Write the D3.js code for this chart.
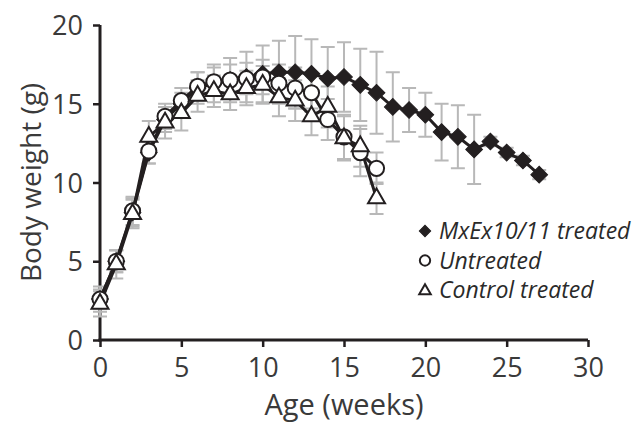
<!DOCTYPE html>
<html>
<head>
<meta charset="utf-8">
<script src="https://cdn.jsdelivr.net/npm/d3@7"></script>
<style>
  html, body { margin: 0; padding: 0; background: #fff; }
  svg { display: block; }
</style>
</head>
<body>
<div id="chart"></div>
<script>
// Body weight over age, three groups
const weeksLong = [0, 1, 2, 3, 4, 5, 6, 7, 8, 9, 10, 11, 12, 13, 14, 15, 16, 17, 18, 19, 20, 21, 22, 23, 24, 25, 26, 27];
const weeksShort = [0, 1, 2, 3, 4, 5, 6, 7, 8, 9, 10, 11, 12, 13, 14, 15, 16, 17];

const mxexMean = [2.6, 5.0, 8.1, 11.9, 14.0, 15.0, 16.0, 16.3, 16.5, 16.7, 16.9, 17.0, 17.0, 16.9, 16.6, 16.7, 16.2, 15.7, 14.8, 14.6, 14.3, 13.2, 12.9, 12.1, 12.6, 11.9, 11.4, 10.5];
const mxexErr = [0.8, 0.7, 0.9, 0.7, 0.8, 0.7, 1.0, 1.2, 1.4, 1.6, 1.8, 2.0, 2.3, 2.2, 2.0, 2.2, 2.3, 2.6, 2.2, 1.4, 1.4, 1.8, 2.0, 2.2, 0.3, 0.3, 0.3, 0.3];

const untreatedMean = [2.6, 5.0, 8.2, 12.0, 14.2, 15.2, 16.1, 16.4, 16.5, 16.6, 16.7, 16.3, 16.0, 15.7, 14.0, 12.9, 11.9, 10.9];
const untreatedErr = [0.6, 0.7, 0.9, 0.8, 0.8, 0.8, 0.9, 0.9, 1.0, 1.0, 1.1, 1.2, 1.3, 1.2, 1.3, 1.4, 1.5, 1.0];

const controlMean = [2.3, 4.8, 8.0, 12.9, 13.8, 14.4, 15.5, 15.8, 15.6, 16.0, 16.2, 15.4, 15.2, 14.2, 14.8, 12.8, 12.3, 9.0];
const controlErr = [0.8, 0.9, 0.9, 1.0, 1.0, 1.1, 1.0, 1.0, 1.0, 1.1, 1.2, 1.2, 1.3, 1.2, 1.3, 1.4, 1.3, 1.0];

const xTicks = [0, 5, 10, 15, 20, 25, 30];
const yTicks = [0, 5, 10, 15, 20];
const legendLabels = ['MxEx10/11 treated', 'Untreated', 'Control treated'];

const width = 636;
const height = 422;
const ink = '#231f20';
const textGray = '#3a3a3a';
const errGray = '#b8b8b8';
const font = '"Open Sans", "DejaVu Sans", sans-serif';

const svg = d3.select('#chart')
  .append('svg')
  .attr('width', width)
  .attr('height', height)
  .style('font-family', font);

const x = d3.scaleLinear().domain([0, 30]).range([100, 588]);
const y = d3.scaleLinear().domain([0, 20]).range([340, 25]);

// series built from the arrays above
const series = [
  { name: legendLabels[0], shape: 'diamond', pts: weeksLong.map((w, i) => ({ w, m: mxexMean[i], e: mxexErr[i] })) },
  { name: legendLabels[1], shape: 'circle', pts: weeksShort.map((w, i) => ({ w, m: untreatedMean[i], e: untreatedErr[i] })) },
  { name: legendLabels[2], shape: 'triangle', pts: weeksShort.map((w, i) => ({ w, m: controlMean[i], e: controlErr[i] })) }
];

// Axes
const xAxis = svg.append('g')
  .attr('transform', `translate(0,${y(0)})`)
  .call(d3.axisBottom(x).tickValues(xTicks).tickSize(7).tickPadding(11).tickSizeOuter(0));

const yAxis = svg.append('g')
  .attr('transform', `translate(${x(0)},0)`)
  .call(d3.axisLeft(y).tickValues(yTicks).tickSize(7).tickPadding(10).tickSizeOuter(0));

[xAxis, yAxis].forEach(ax => {
  ax.select('.domain').attr('stroke', ink).attr('stroke-width', 3);
  ax.selectAll('.tick line').attr('stroke', ink).attr('stroke-width', 2.5);
  ax.selectAll('.tick text')
    .attr('fill', textGray)
    .style('font-size', '27px')
    .style('font-family', font);
});
yAxis.selectAll('.tick text').attr('dy', '0.36em');
// extend axis lines to meet at the corner
xAxis.select('.domain').attr('d', `M${x(0) - 1.5},0H${x(30)}`);
yAxis.select('.domain').attr('d', `M0,${y(0) + 1.5}V${y(20)}`);

// Axis titles
svg.append('text')
  .attr('x', (x(0) + x(30)) / 2)
  .attr('y', 415)
  .attr('text-anchor', 'middle')
  .attr('fill', textGray)
  .style('font-size', '29px')
  .text('Age (weeks)');

svg.append('text')
  .attr('transform', `translate(41,${(y(0) + y(20)) / 2}) rotate(-90)`)
  .attr('text-anchor', 'middle')
  .attr('fill', textGray)
  .style('font-size', '28px')
  .text('Body weight (g)');

// Error bars (drawn first, behind lines and markers)
const capHalf = 7;
series.forEach(s => {
  const g = svg.append('g').attr('stroke', errGray).attr('stroke-width', 2).attr('fill', 'none');
  g.selectAll('path')
    .data(s.pts)
    .enter()
    .append('path')
    .attr('d', d => {
      const cx = x(d.w), top = y(d.m + d.e), bot = y(d.m - d.e);
      return `M${cx},${top}V${bot}M${cx - capHalf},${top}H${cx + capHalf}M${cx - capHalf},${bot}H${cx + capHalf}`;
    });
});

// Lines
const line = d3.line().x(d => x(d.w)).y(d => y(d.m));
series.forEach(s => {
  svg.append('path')
    .datum(s.pts)
    .attr('d', line)
    .attr('fill', 'none')
    .attr('stroke', ink)
    .attr('stroke-width', 3);
});

// Marker shapes
function symbolFor(shape, scale) {
  if (shape === 'diamond') return d3.symbol(d3.symbolSquare, 140 * scale * scale);
  if (shape === 'circle') return d3.symbol(d3.symbolCircle, 180 * scale * scale);
  return d3.symbol(d3.symbolTriangle, 125 * scale * scale);
}

function drawMarker(sel, shape, scale) {
  sel.attr('d', symbolFor(shape, scale)())
    .attr('fill', shape === 'diamond' ? ink : '#fff')
    .attr('stroke', ink)
    .attr('stroke-width', shape === 'diamond' ? 1 : 2);
}

series.forEach(s => {
  const g = svg.append('g');
  const m = g.selectAll('path')
    .data(s.pts)
    .enter()
    .append('path')
    .attr('transform', d => `translate(${x(d.w)},${y(d.m)})` + (s.shape === 'diamond' ? ' rotate(45)' : ''));
  drawMarker(m, s.shape, 1);
});

// Legend
const legend = svg.append('g');
const legendRows = legend.selectAll('g')
  .data(series)
  .enter()
  .append('g')
  .attr('transform', (d, i) => `translate(425,${231 + i * 29.5})`);

legendRows.append('path')
  .attr('transform', d => d.shape === 'diamond' ? 'rotate(45)' : (d.shape === 'triangle' ? 'translate(0,1)' : null))
  .each(function (d) { drawMarker(d3.select(this), d.shape, 0.68); });

legendRows.append('text')
  .attr('x', 14)
  .attr('y', 8)
  .attr('fill', '#2a2a2a')
  .style('font-size', '23px')
  .style('font-style', 'italic')
  .text(d => d.name);
</script>
</body>
</html>
